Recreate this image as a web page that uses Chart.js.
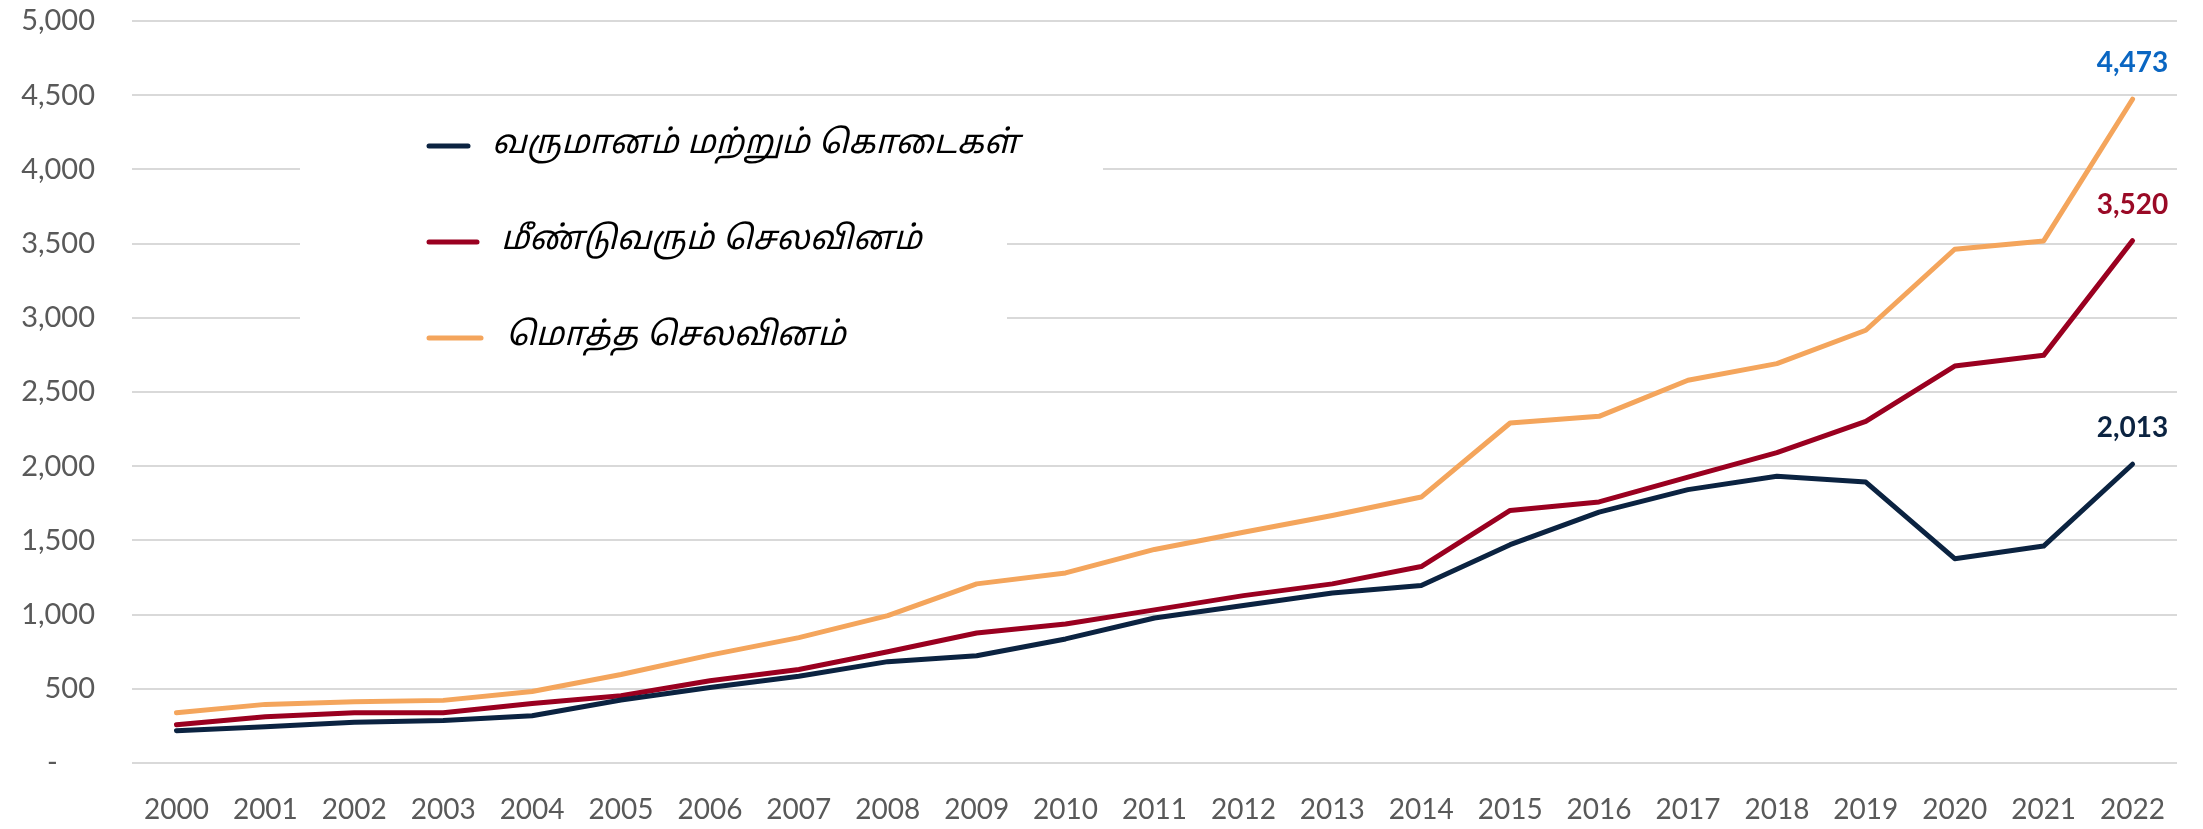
<!DOCTYPE html>
<html>
<head>
<meta charset="utf-8">
<script src="https://cdn.jsdelivr.net/npm/chart.js@4"></script>
<style>
html,body{margin:0;padding:0;background:#fff;}
#wrap{width:2203px;height:829px;position:relative;}
</style>
</head>
<body>
<div id="wrap"><canvas id="c" width="2203" height="829"></canvas></div>
<script>
const years = ['2000','2001','2002','2003','2004','2005','2006','2007','2008','2009','2010','2011','2012','2013','2014','2015','2016','2017','2018','2019','2020','2021','2022'];
const revenueGrants = [218, 245, 274, 287, 318, 424, 509, 585, 683, 723, 836, 977, 1061, 1146, 1196, 1471, 1691, 1842, 1932, 1893, 1377, 1462, 2013];
const recurrentExp = [258, 312, 339, 339, 401, 453, 554, 630, 750, 876, 937, 1032, 1128, 1207, 1324, 1702, 1759, 1927, 2091, 2302, 2675, 2747, 3520];
const totalExp = [339, 395, 413, 422, 482, 596, 727, 845, 993, 1207, 1281, 1439, 1555, 1668, 1792, 2291, 2336, 2579, 2691, 2916, 3462, 3518, 4473];
const seriesLabels = ['வருமானம் மற்றும் கொடைகள்', 'மீண்டுவரும் செலவினம்', 'மொத்த செலவினம்'];
const yTicks = [0, 500, 1000, 1500, 2000, 2500, 3000, 3500, 4000, 4500, 5000];

const NAVY = '#0B2341', RED = '#9A0020', ORANGE = '#F4A55C';
const LABEL_COLORS = [NAVY, '#9A0A26', '#0A66C2'];
const BASE_FONT = 'Lato, Carlito, "Open Sans", sans-serif';
const TAMIL_FONT = '"Latha", "Noto Sans Tamil", "Noto Serif Tamil", "Lohit Tamil", sans-serif';

const legendBoxPlugin = {
  id: 'legendBox',
  beforeDatasetsDraw(chart) {
    const ctx = chart.ctx;
    ctx.save();
    ctx.fillStyle = '#ffffff';
    ctx.fillRect(300, 120, 803, 80);
    ctx.fillRect(300, 200, 707, 170);
    const rows = [
      {y: 146, x1: 427, x2: 470, tx: 492},
      {y: 242, x1: 427, x2: 479, tx: 501},
      {y: 338, x1: 427, x2: 483, tx: 506}
    ];
    chart.data.datasets.forEach((ds, i) => {
      const r = rows[i];
      ctx.strokeStyle = ds.borderColor;
      ctx.lineWidth = 5;
      ctx.lineCap = 'round';
      ctx.beginPath();
      ctx.moveTo(r.x1 + 2, r.y);
      ctx.lineTo(r.x2 - 2, r.y);
      ctx.stroke();
      ctx.fillStyle = '#000000';
      ctx.font = 'italic 33px ' + TAMIL_FONT;
      ctx.textAlign = 'left';
      ctx.textBaseline = 'middle';
      ctx.fillText(ds.label, r.tx, r.y);
    });
    ctx.restore();
  }
};

const endLabelPlugin = {
  id: 'endLabels',
  afterDatasetsDraw(chart) {
    const ctx = chart.ctx;
    ctx.save();
    ctx.font = 'bold 28px ' + BASE_FONT;
    ctx.textAlign = 'center';
    ctx.textBaseline = 'middle';
    chart.data.datasets.forEach((ds, i) => {
      const meta = chart.getDatasetMeta(i);
      const last = meta.data[meta.data.length - 1];
      const v = ds.data[ds.data.length - 1];
      ctx.fillStyle = LABEL_COLORS[i];
      ctx.fillText(v.toLocaleString('en-US'), last.x, last.y - 36);
    });
    ctx.restore();
  }
};

const mkDs = (label, data, color) => ({
  label, data, borderColor: color, backgroundColor: color,
  borderWidth: 5, pointRadius: 0, tension: 0, fill: false,
  borderCapStyle: 'round', borderJoinStyle: 'round'
});

new Chart(document.getElementById('c'), {
  type: 'line',
  data: {
    labels: years,
    datasets: [
      mkDs(seriesLabels[0], revenueGrants, NAVY),
      mkDs(seriesLabels[1], recurrentExp, RED),
      mkDs(seriesLabels[2], totalExp, ORANGE)
    ]
  },
  options: {
    responsive: false,
    animation: false,
    layout: {padding: {left: 0, right: 26, top: 21, bottom: 0}},
    plugins: {legend: {display: false}, tooltip: {enabled: false}},
    scales: {
      x: {
        offset: true,
        grid: {display: false, drawTicks: false},
        border: {display: false},
        ticks: {color: '#595959', font: {family: BASE_FONT, size: 28}, padding: 30, maxRotation: 0, autoSkip: false},
        afterFit(scale) { scale.height = 66; }
      },
      y: {
        min: 0, max: 5000,
        afterBuildTicks(scale) { scale.ticks = yTicks.map(v => ({value: v})); },
        grid: {color: '#D9D9D9', lineWidth: 2, drawTicks: true, tickLength: 37, tickColor: 'rgba(0,0,0,0)'},
        border: {display: false},
        ticks: {
          color: '#595959', font: {family: BASE_FONT, size: 29}, padding: 0,
          callback: (v) => v === 0 ? '-     ' : Number(v).toLocaleString('en-US')
        },
        afterFit(scale) { scale.width = 132; }
      }
    }
  },
  plugins: [legendBoxPlugin, endLabelPlugin]
});
</script>
</body>
</html>
